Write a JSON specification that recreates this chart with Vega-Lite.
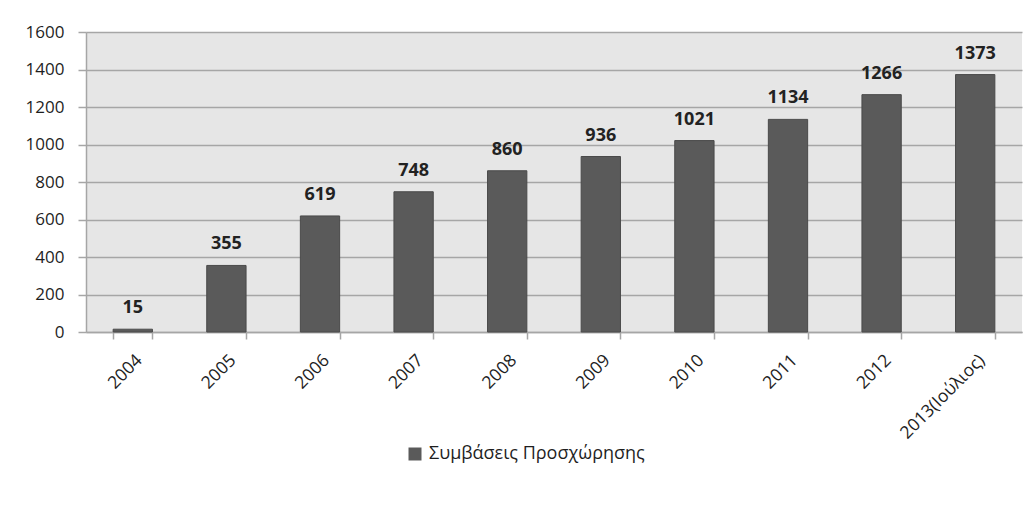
{
  "$schema": "https://vega.github.io/schema/vega-lite/v6.json",
  "autosize": "none",
  "width": 936,
  "height": 300,
  "padding": {"left": 86, "top": 32, "right": 9, "bottom": 191},
  "background": "white",
  "config": {
    "view": {"fill": "#e6e6e6", "stroke": null},
    "font": "Open Sans"
  },
  "data": {
    "values": [
      {"year": "2004", "count": 15, "series": "Συμβάσεις Προσχώρησης"},
      {"year": "2005", "count": 355, "series": "Συμβάσεις Προσχώρησης"},
      {"year": "2006", "count": 619, "series": "Συμβάσεις Προσχώρησης"},
      {"year": "2007", "count": 748, "series": "Συμβάσεις Προσχώρησης"},
      {"year": "2008", "count": 860, "series": "Συμβάσεις Προσχώρησης"},
      {"year": "2009", "count": 936, "series": "Συμβάσεις Προσχώρησης"},
      {"year": "2010", "count": 1021, "series": "Συμβάσεις Προσχώρησης"},
      {"year": "2011", "count": 1134, "series": "Συμβάσεις Προσχώρησης"},
      {"year": "2012", "count": 1266, "series": "Συμβάσεις Προσχώρησης"},
      {"year": "2013(Ιούλιος)", "count": 1373, "series": "Συμβάσεις Προσχώρησης"}
    ]
  },
  "encoding": {
    "x": {
      "field": "year",
      "type": "nominal",
      "sort": null,
      "scale": {"paddingInner": 0.58, "paddingOuter": 0.29},
      "axis": {
        "title": null,
        "labelAngle": -45,
        "labelFont": "Open Sans",
        "labelFontSize": 17.5,
        "labelColor": "#1e1e1e",
        "labelPadding": 12,
        "labelDx": -7,
        "labelLimit": 0,
        "tickBand": "extent",
        "tickSize": 7,
        "tickWidth": 1.5,
        "tickColor": "#a6a6a6",
        "domainColor": "#a6a6a6",
        "domainWidth": 1.5,
        "grid": false
      }
    },
    "y": {
      "field": "count",
      "type": "quantitative",
      "scale": {"domain": [0, 1600], "nice": false},
      "axis": {
        "title": null,
        "format": "d",
        "values": [0, 200, 400, 600, 800, 1000, 1200, 1400, 1600],
        "labelFont": "Open Sans",
        "labelFontSize": 17,
        "labelColor": "#1e1e1e",
        "labelPadding": 14,
        "tickSize": 8,
        "tickWidth": 1.5,
        "tickColor": "#a6a6a6",
        "domainColor": "#a6a6a6",
        "domainWidth": 1.5,
        "grid": true,
        "gridColor": "#a6a6a6",
        "gridWidth": 1.5
      }
    }
  },
  "layer": [
    {
      "mark": {"type": "bar", "stroke": "#4a4a4a", "strokeWidth": 1},
      "encoding": {
        "color": {
          "field": "series",
          "type": "nominal",
          "scale": {"range": ["#5a5a5a"]},
          "legend": {
            "title": null,
            "orient": "none",
            "legendX": 320,
            "legendY": 413,
            "symbolType": "square",
            "symbolSize": 169,
            "symbolStrokeWidth": 0,
            "labelFont": "Open Sans",
            "labelFontSize": 18,
            "labelColor": "#1e1e1e",
            "labelOffset": 5,
            "labelLimit": 0,
            "padding": 0
          }
        }
      }
    },
    {
      "mark": {
        "type": "text",
        "font": "Open Sans",
        "fontSize": 18,
        "fontWeight": "bold",
        "color": "#222222",
        "baseline": "alphabetic",
        "dy": -16
      },
      "encoding": {
        "text": {"field": "count", "type": "quantitative"}
      }
    }
  ]
}
